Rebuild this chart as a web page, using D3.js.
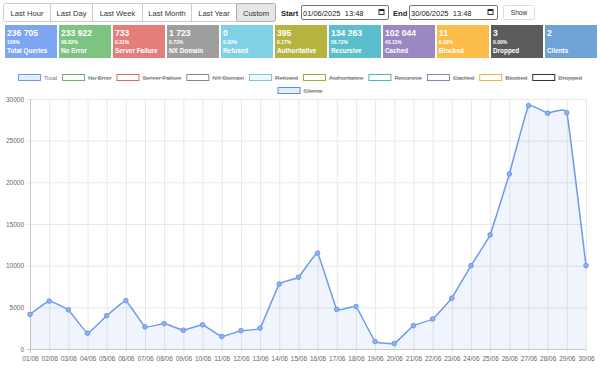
<!DOCTYPE html>
<html lang="en">
<head>
<meta charset="utf-8">
<title>DNS stats</title>
<script src="https://cdn.jsdelivr.net/npm/d3@7"></script>
<style>
  body { margin: 0; background: #fff; }
  svg { display: block; font-family: "Liberation Sans", Arial, sans-serif; }
</style>
</head>
<body>
<script>
// ranges / buttons
var rangeButtons = ["Last Hour", "Last Day", "Last Week", "Last Month", "Last Year", "Custom"];
var startText = "01/06/2025  13:48";
var endText = "30/06/2025  13:48";

// stat boxes
var statValues = ["236 705", "233 922", "733", "1 723", "0", "395", "134 263", "102 044", "11", "3", "2"];
var statPercents = ["100%", "98.82%", "0.31%", "0.73%", "0.00%", "0.17%", "56.72%", "43.11%", "0.00%", "0.00%", ""];
var statLabels = ["Total Queries", "No Error", "Server Failure", "NX Domain", "Refused", "Authoritative", "Recursive", "Cached", "Blocked", "Dropped", "Clients"];
var statColors = ["#7ea5f1", "#7dc482", "#e57e7b", "#9e9e9e", "#80d0e6", "#b5b43f", "#5bbfcb", "#9b88c2", "#fbbc4a", "#5c5c5c", "#6fa2d6"];

// legend
var legendNames = ["Total", "No Error", "Server Failure", "NX Domain", "Refused", "Authoritative", "Recursive", "Cached", "Blocked", "Dropped", "Clients"];
var legendStroke = ["#6f9ae8", "#6ab46e", "#d96a6a", "#8a8a8a", "#7cc9de", "#aaa83a", "#4fb2c0", "#8f80bb", "#f2b24a", "#333333", "#5f8fcc"];
var legendFill = ["#e3ecfc", "#ffffff", "#ffffff", "#ffffff", "#eef9fc", "#ffffff", "#ffffff", "#ffffff", "#ffffff", "#ffffff", "#e3ecfc"];
var legendHidden = [false, true, true, true, true, true, true, true, true, true, true];

// chart data
var days = ["01/06","02/06","03/06","04/06","05/06","06/06","07/06","08/06","09/06","10/06",
            "11/06","12/06","13/06","14/06","15/06","16/06","17/06","18/06","19/06","20/06",
            "21/06","22/06","23/06","24/06","25/06","26/06","27/06","28/06","29/06","30/06"];
var totals = [4150, 5750, 4700, 1900, 4000, 5800, 2650, 3050, 2250, 2900,
              1500, 2200, 2500, 7800, 8600, 11500, 4750, 5100, 900, 650,
              2800, 3600, 6100, 10000, 13700, 21000, 29200, 28300, 28350, 10000];
var yTicks = [0, 5000, 10000, 15000, 20000, 25000, 30000];

var w = 600, h = 371;
var svg = d3.select("body").append("svg").attr("width", w).attr("height", h);

//Button group
var btnX = [3, 50, 92, 142, 191, 236, 275];
var bg = svg.append("g");
rangeButtons.forEach(function(b, i) {
  bg.append("rect")
    .attr("x", btnX[i] + 0.5).attr("y", 3.5)
    .attr("width", btnX[i + 1] - btnX[i]).attr("height", 18)
    .attr("rx", (i == 0 || i == rangeButtons.length - 1) ? 2 : 0)
    .attr("fill", b == "Custom" ? "#e6e6e6" : "#fff")
    .attr("stroke", b == "Custom" ? "#adadad" : "#ccc");
  bg.append("text")
    .attr("x", (btnX[i] + btnX[i + 1]) / 2 + 0.5).attr("y", 15.5)
    .attr("text-anchor", "middle").attr("font-size", "7.6px").attr("fill", "#333")
    .text(b);
});

// date inputs
function dateInput(label, lx, x0, x1, txt) {
  svg.append("text").attr("x", lx).attr("y", 15.5).attr("font-size", "7.6px")
    .attr("font-weight", "bold").attr("fill", "#222").text(label);
  svg.append("rect").attr("x", x0 + 0.5).attr("y", 5.5).attr("width", x1 - x0).attr("height", 14)
    .attr("rx", 1.5).attr("fill", "#fff").attr("stroke", "#767676");
  svg.append("text").attr("x", x0 + 2).attr("y", 15.5).attr("font-size", "7.5px")
    .attr("fill", "#222").style("white-space", "pre").text(txt);
  // calendar icon
  var ix = x1 - 9;
  svg.append("rect").attr("x", ix).attr("y", 9.5).attr("width", 5).attr("height", 5)
    .attr("fill", "none").attr("stroke", "#222").attr("stroke-width", 0.9);
  svg.append("rect").attr("x", ix).attr("y", 9.5).attr("width", 5).attr("height", 1.5).attr("fill", "#222");
}
dateInput("Start", 281, 301, 388, startText);
dateInput("End", 393, 409, 497, endText);

svg.append("rect").attr("x", 503.5).attr("y", 5.5).attr("width", 31).attr("height", 14).attr("rx", 2)
  .attr("fill", "#fff").attr("stroke", "#ddd");
svg.append("text").attr("x", 519).attr("y", 14.5).attr("text-anchor", "middle")
  .attr("font-size", "6.6px").attr("fill", "#333").text("Show");

// stat boxes
var sg = svg.append("g").selectAll("g").data(statLabels).enter().append("g")
  .attr("transform", function(d, i) { return "translate(" + (5 + i * 54) + ",25)"; });
sg.append("rect").attr("width", 52).attr("height", 33)
  .attr("fill", function(d, i) { return statColors[i]; });
sg.append("text").attr("x", 2).attr("y", 11.3).attr("font-size", "8.6px").attr("font-weight", "bold")
  .attr("fill", "#fff").text(function(d, i) { return statValues[i]; });
sg.append("text").attr("x", 2).attr("y", 19).attr("font-size", "5px").attr("font-weight", "bold")
  .attr("fill", "#fff").text(function(d, i) { return statPercents[i]; });
sg.append("text").attr("x", 2).attr("y", 28).attr("font-size", "6.4px").attr("font-weight", "bold")
  .attr("fill", "#fff").text(function(d) { return d; });

// legend (chart.js style, centered rows)
var lg = svg.append("g");
var items = legendNames.map(function(n, i) {
  var t = lg.append("text").attr("font-size", "6.2px").attr("fill", "#777").text(n);
  return { i: i, t: t, tw: t.node().getComputedTextLength() };
});
var boxW = 22, rows = [[]], rowW = [0], maxW = 572;
items.forEach(function(it) {
  var iw = boxW + 4 + it.tw + 5;
  if (rowW[rowW.length - 1] + iw > maxW) { rows.push([]); rowW.push(0); }
  rows[rows.length - 1].push(it);
  rowW[rowW.length - 1] += iw;
});
rows.forEach(function(r, ri) {
  var x = (w - (rowW[ri] - 5)) / 2;
  var y = 74 + ri * 13;
  r.forEach(function(it) {
    lg.append("rect").attr("x", x + 0.5).attr("y", y + 0.5).attr("width", boxW).attr("height", 6)
      .attr("fill", legendFill[it.i]).attr("stroke", legendStroke[it.i]).attr("stroke-width", 1);
    it.t.attr("x", x + boxW + 4).attr("y", y + 6);
    if (legendHidden[it.i]) {
      lg.append("line").attr("x1", x + boxW + 4).attr("x2", x + boxW + 4 + it.tw)
        .attr("y1", y + 4).attr("y2", y + 4).attr("stroke", "#777").attr("stroke-width", 0.7);
    }
    x += boxW + 4 + it.tw + 5;
  });
});

// chart
var plotL = 30, plotR = 586, plotT = 99, plotB = 349;
var xScale = d3.scalePoint().domain(days).range([plotL, plotR]);
var yScale = d3.scaleLinear().domain([0, 30000]).range([plotB, plotT]);

var gx = svg.append("g").attr("transform", "translate(0," + plotB + ")")
  .call(d3.axisBottom(xScale).tickSize(4).tickPadding(3));
gx.selectAll(".tick line").attr("stroke", "#e8e8e8").attr("y1", -(plotB - plotT)).attr("y2", 4);
gx.select(".domain").remove();
gx.selectAll("text").attr("font-size", "6.5px").attr("fill", "#666").attr("font-family", "Liberation Sans, Arial, sans-serif");

var gy = svg.append("g").attr("transform", "translate(" + plotL + ",0)")
  .call(d3.axisLeft(yScale).tickValues(yTicks).tickFormat(d3.format("d")).tickSize(3).tickPadding(3));
gy.selectAll(".tick line").attr("stroke", "#e8e8e8").attr("x1", plotR - plotL).attr("x2", -3);
gy.select(".domain").remove();
gy.selectAll("text").attr("font-size", "6.5px").attr("fill", "#666").attr("font-family", "Liberation Sans, Arial, sans-serif");

// axis lines
svg.append("line").attr("x1", plotL + 0.5).attr("x2", plotL + 0.5).attr("y1", plotT).attr("y2", plotB + 4)
  .attr("stroke", "#c8c8c8");
svg.append("line").attr("x1", plotL - 3).attr("x2", plotR).attr("y1", plotB + 0.5).attr("y2", plotB + 0.5)
  .attr("stroke", "#c8c8c8");

var curve = d3.curveCardinal.tension(0.75);
var area = d3.area()
  .x(function(d, i) { return xScale(days[i]); })
  .y0(plotB).y1(function(d) { return yScale(d); }).curve(curve);
var line = d3.line()
  .x(function(d, i) { return xScale(days[i]); })
  .y(function(d) { return yScale(d); }).curve(curve);

svg.append("path").datum(totals).attr("d", area).attr("fill", "rgba(111,154,232,0.1)");
svg.append("path").datum(totals).attr("d", line).attr("fill", "none")
  .attr("stroke", "#6f9ae8").attr("stroke-width", 1.5);
svg.selectAll("circle.pt").data(totals).enter().append("circle").attr("class", "pt")
  .attr("cx", function(d, i) { return xScale(days[i]); })
  .attr("cy", function(d) { return yScale(d); })
  .attr("r", 2.3).attr("fill", "#8fb1ee").attr("stroke", "#6f9ae8").attr("stroke-width", 1);
</script>
</body>
</html>
